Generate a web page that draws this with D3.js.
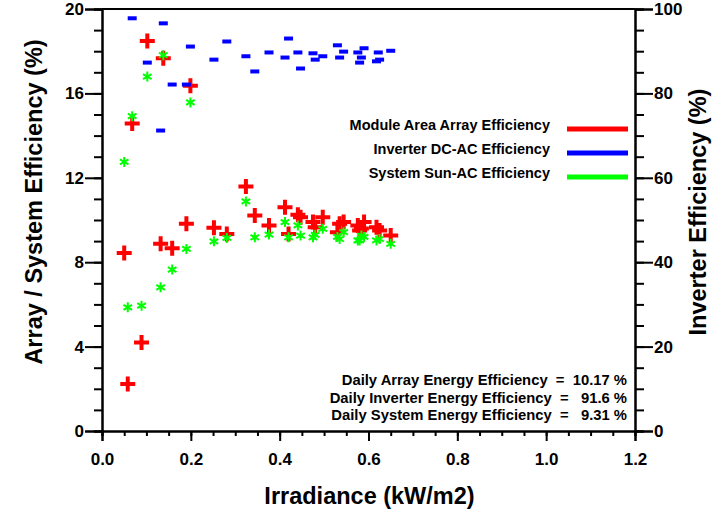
<!DOCTYPE html>
<html>
<head>
<meta charset="utf-8">
<script src="https://cdn.jsdelivr.net/npm/d3@7/dist/d3.min.js"></script>
<style>
body { margin: 0; background: #fff; }
svg text { font-family: "Liberation Sans", Arial, sans-serif; font-weight: bold; fill: #000; }
.axis path, .axis line { stroke: #000; stroke-width: 2; }
.axis text { font-size: 17px; }
</style>
</head>
<body>
<svg id="chart" width="721" height="514"></svg>
<script>
// irradiance (kW/m2) shared by the three series, null = no point
var irradiance = [0.050, 0.058, 0.068, 0.089, 0.102, 0.132, 0.138, 0.158, 0.190, 0.199,
                  0.252, 0.281, 0.324, 0.344, 0.376, 0.412, 0.420, 0.441, 0.447, 0.475,
                  0.480, 0.497, 0.530, 0.535, 0.544, 0.576, 0.580, 0.584, 0.590, 0.618,
                  0.622, 0.625, 0.650];
var arrayEff =    [8.44, 2.23, 14.57, 4.19, 18.48, 8.87, 17.66, 8.66, 9.82, 16.36,
                   9.63, 9.34, 11.59, 10.21, 9.74, 10.6, 9.34, 10.25, 10.13, 9.9,
                   9.66, 10.13, 9.42, 9.82, 9.9, 9.74, 9.5, 9.6, 9.9, 9.66,
                   null, 9.5, 9.26];
var inverterEff = [null, null, 97.8, null, 87.3, 71.2, 96.6, 82.1, 82.1, 91.1,
                   88.0, 92.3, 88.8, 85.2, 89.7, 88.5, 93.0, 89.7, 85.9, 89.5,
                   88.0, 88.8, 91.4, 88.5, 89.9, 89.7, 87.3, 88.5, 90.7, 87.6,
                   89.7, 88.0, 90.1];
var systemEff =   [12.75, 5.86, 14.92, 5.94, 16.8, 6.81, 17.81, 7.65, 8.63, 15.57,
                   8.99, 9.15, 10.88, 9.18, 9.31, 9.9, 9.18, 9.74, 9.26, 9.18,
                   9.3, 9.58, 9.2, 9.1, 9.42, 9.03, 9.03, 9.26, 9.2, 9.03,
                   null, 9.1, 8.87];

var xTicks = [0, 0.2, 0.4, 0.6, 0.8, 1.0, 1.2];
var yLeftTicks = [0, 4, 8, 12, 16, 20];
var yRightTicks = [0, 20, 40, 60, 80, 100];

var legendNames = ["Module Area Array Efficiency", "Inverter DC-AC Efficiency", "System Sun-AC Efficiency"];
var legendColors = ["#ff0000", "#0000ff", "#00ff00"];
var summaryLines = ["Daily Array Energy Efficiency  =  10.17 %",
                    "Daily Inverter Energy Efficiency  =   91.6 %",
                    "Daily System Energy Efficiency  =   9.31 %"];

var svg = d3.select("#chart"),
    margin = {top: 9, right: 86, bottom: 83, left: 102},
    width = +svg.attr("width") - margin.left - margin.right,
    height = +svg.attr("height") - margin.top - margin.bottom,
    g = svg.append("g").attr("transform", "translate(" + margin.left + "," + margin.top + ")");

var x = d3.scaleLinear().domain([0, 1.2]).range([0, width]);
var yL = d3.scaleLinear().domain([0, 20]).range([height, 0]);
var yR = d3.scaleLinear().domain([0, 100]).range([height, 0]);

var pts = irradiance.map(function(v, i) {
  return {x: v, a: arrayEff[i], inv: inverterEff[i], s: systemEff[i]};
});

/* minor ticks */
g.append("g").attr("class", "axis")
    .call(d3.axisLeft(yL).tickValues(d3.range(0, 21, 1)).tickSize(8).tickFormat(""));
g.append("g").attr("class", "axis")
    .attr("transform", "translate(" + width + ",0)")
    .call(d3.axisRight(yR).tickValues(d3.range(0, 101, 5)).tickSize(9).tickFormat(""));
g.append("g").attr("class", "axis")
    .attr("transform", "translate(0," + height + ")")
    .call(d3.axisBottom(x).tickValues(d3.range(0, 1.21, 0.05)).tickSize(5).tickFormat(""));

/* major ticks with labels */
g.append("g").attr("class", "axis")
    .call(d3.axisLeft(yL).tickValues(yLeftTicks).tickSize(17).tickPadding(1).tickFormat(d3.format("d")));
g.append("g").attr("class", "axis")
    .attr("transform", "translate(" + width + ",0)")
    .call(d3.axisRight(yR).tickValues(yRightTicks).tickSize(18).tickPadding(1).tickFormat(d3.format("d")));
g.append("g").attr("class", "axis")
    .attr("transform", "translate(0," + height + ")")
    .call(d3.axisBottom(x).tickValues(xTicks).tickSize(10).tickPadding(12).tickFormat(d3.format(".1f")));

// top frame line
g.append("line")
    .attr("x1", 0).attr("x2", width).attr("y1", 0).attr("y2", 0)
    .attr("stroke", "#000").attr("stroke-width", 2);

/* markers: array (plus), inverter (dash), system (asterisk) */
g.append("g").selectAll("path")
    .data(pts.filter(function(d) { return d.a != null; }))
    .enter().append("path")
      .attr("transform", function(d) { return "translate(" + x(d.x) + "," + yL(d.a) + ")"; })
      .attr("d", "M-7.5,0H7.5M0,-7.5V7.5")
      .attr("stroke", "#ff0000")
      .attr("stroke-width", 4);

g.append("g").selectAll("rect")
    .data(pts.filter(function(d) { return d.inv != null; }))
    .enter().append("rect")
      .attr("x", function(d) { return x(d.x) - 4.5; })
      .attr("y", function(d) { return yR(d.inv) - 2; })
      .attr("width", 9)
      .attr("height", 4)
      .attr("fill", "#0000ff");

g.append("g").selectAll("path")
    .data(pts.filter(function(d) { return d.s != null; }))
    .enter().append("path")
      .attr("transform", function(d) { return "translate(" + x(d.x) + "," + yL(d.s) + ")"; })
      .attr("d", "M0,-5V5M-4.3,-2.5L4.3,2.5M-4.3,2.5L4.3,-2.5")
      .attr("stroke", "#00ff00")
      .attr("stroke-width", 2);

/* axis titles */
svg.append("text")
    .attr("x", margin.left + width / 2 + 1)
    .attr("y", 504)
    .attr("text-anchor", "middle")
    .attr("font-size", 23.5)
    .text("Irradiance (kW/m2)");

svg.append("text")
    .attr("transform", "translate(42,202) rotate(-90)")
    .attr("text-anchor", "middle")
    .attr("font-size", 23.5)
    .text("Array / System Efficiency (%)");

svg.append("text")
    .attr("transform", "translate(706,212) rotate(-90)")
    .attr("text-anchor", "middle")
    .attr("font-size", 23.5)
    .text("Inverter Efficiency (%)");

/* legend */
var legend = svg.append("g").selectAll("g")
    .data(legendNames)
    .enter().append("g")
      .attr("transform", function(d, i) { return "translate(0," + (129 + i * 24) + ")"; });

legend.append("text")
    .attr("x", 550)
    .attr("y", 1)
    .attr("text-anchor", "end")
    .attr("font-size", 14.5)
    .text(function(d) { return d; });

legend.append("line")
    .attr("x1", 567).attr("x2", 628)
    .attr("y1", 0).attr("y2", 0)
    .attr("stroke", function(d, i) { return legendColors[i]; })
    .attr("stroke-width", 5);

/* daily summary */
svg.append("g").selectAll("text")
    .data(summaryLines)
    .enter().append("text")
      .attr("x", 627)
      .attr("y", function(d, i) { return 385 + i * 17.5; })
      .attr("text-anchor", "end")
      .attr("font-size", 14.8)
      .style("white-space", "pre")
      .text(function(d) { return d; });
</script>
</body>
</html>
